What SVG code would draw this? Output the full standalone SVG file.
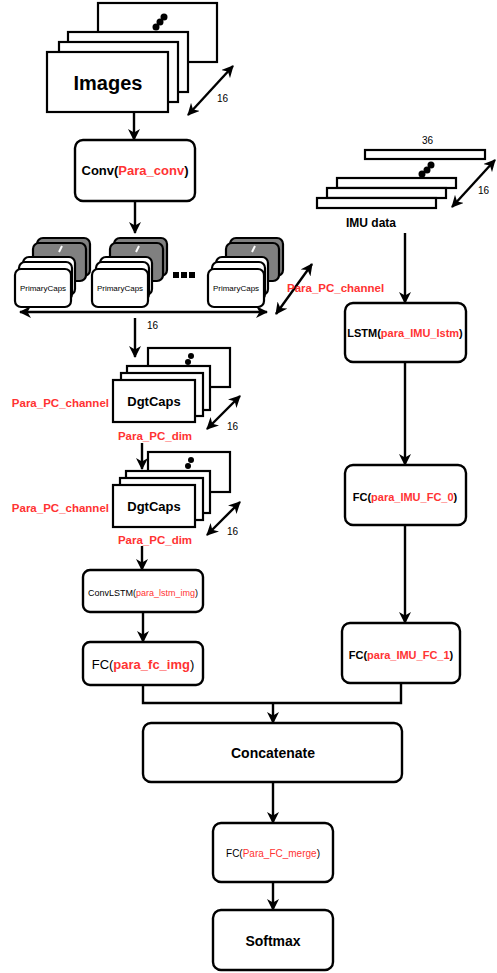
<svg xmlns="http://www.w3.org/2000/svg" width="497" height="973" viewBox="0 0 497 973">
<defs>
<marker id="ah" viewBox="0 0 12 12" refX="11" refY="6" markerWidth="12" markerHeight="12" markerUnits="userSpaceOnUse" orient="auto-start-reverse">
<path d="M0,0 L12,6 L0,12 L3.5,6 z" fill="#000"/>
</marker>
<style>
text{font-family:"Liberation Sans",Arial,sans-serif;fill:#000}
.b{font-weight:bold}
.r{fill:#ff3333}
.box{fill:#fff;stroke:#000;stroke-width:2.4}
.sheet{fill:#fff;stroke:#000;stroke-width:2.2}
.dark{fill:#808080;stroke:#000;stroke-width:2.2}
.card{fill:#fff;stroke:#000;stroke-width:2.2}
.ln{fill:none;stroke:#000;stroke-width:2.4}
.arr{fill:none;stroke:#000;stroke-width:2.4;marker-end:url(#ah)}
.darr{fill:none;stroke:#000;stroke-width:2.4;marker-end:url(#ah);marker-start:url(#ah)}
.dim{font-size:10px}
.lab{font-size:11.5px;font-weight:bold;fill:#ff3333}
</style>
</defs>
<rect width="497" height="973" fill="#fff"/>

<g id="images">
<rect class="sheet" x="98" y="3" width="119" height="59"/>
<circle cx="164" cy="17" r="3.5"/><circle cx="160" cy="22" r="3.5"/><circle cx="156" cy="27" r="3.5"/>
<rect class="sheet" x="68" y="32" width="120" height="60"/>
<rect class="sheet" x="59" y="42" width="119" height="60"/>
<rect class="sheet" x="47" y="52" width="121" height="60"/>
<text class="b" x="108" y="90" font-size="20" text-anchor="middle">Images</text>
<path class="darr" d="M188,115 L233,66"/>
<text class="dim" x="217" y="102">16</text>
</g>

<g id="conv">
<rect class="box" x="75" y="140" width="120" height="61" rx="8"/>
<text class="b" x="135" y="175" font-size="13" text-anchor="middle">Conv(<tspan class="r">Para_conv</tspan>)</text>
</g>

<g id="primarycaps">
<g id="pc1">
<rect class="dark" x="37" y="238" width="53" height="38" rx="6"/>
<rect class="dark" x="33" y="243" width="53" height="38" rx="6"/>
<path d="M62,246 l-3,6" stroke="#fff" stroke-width="2"/>
<rect class="card" x="23" y="257" width="52" height="38" rx="6"/>
<rect class="card" x="19" y="262" width="53" height="38" rx="6"/>
<rect class="card" x="15" y="269" width="56" height="38" rx="6"/>
<text x="43" y="291" font-size="8" text-anchor="middle">PrimaryCaps</text>
</g>
<g id="pc2">
<rect class="dark" x="114" y="238" width="53" height="38" rx="6"/>
<rect class="dark" x="110" y="243" width="53" height="38" rx="6"/>
<path d="M139,246 l-3,6" stroke="#fff" stroke-width="2"/>
<rect class="card" x="100" y="257" width="52" height="38" rx="6"/>
<rect class="card" x="96" y="262" width="53" height="38" rx="6"/>
<rect class="card" x="92" y="269" width="56" height="38" rx="6"/>
<text x="120" y="291" font-size="8" text-anchor="middle">PrimaryCaps</text>
</g>
<rect x="173" y="272" width="6" height="6"/><rect x="181" y="272" width="6" height="6"/><rect x="189" y="272" width="6" height="6"/>
<g id="pc3">
<rect class="dark" x="230" y="238" width="53" height="38" rx="6"/>
<rect class="dark" x="226" y="243" width="53" height="38" rx="6"/>
<path d="M255,246 l-3,6" stroke="#fff" stroke-width="2"/>
<rect class="card" x="216" y="257" width="52" height="38" rx="6"/>
<rect class="card" x="212" y="262" width="53" height="38" rx="6"/>
<rect class="card" x="208" y="269" width="56" height="38" rx="6"/>
<text x="236" y="291" font-size="8" text-anchor="middle">PrimaryCaps</text>
</g>
<path class="darr" d="M20,312 L267,312"/>
<text class="dim" x="147" y="329">16</text>
<path class="darr" d="M276,314 L312,264"/>
<text class="lab" x="287" y="292">Para_PC_channel</text>
</g>

<g id="imu">
<text class="dim" x="422" y="144">36</text>
<rect class="sheet" x="365" y="150" width="120" height="9"/>
<circle cx="431" cy="165" r="3.5"/><circle cx="427" cy="170" r="3.5"/><circle cx="422" cy="174" r="3.5"/>
<rect class="sheet" x="337" y="178" width="119" height="10"/>
<rect class="sheet" x="327" y="188" width="119" height="10"/>
<rect class="sheet" x="317" y="198" width="119" height="10"/>
<path class="darr" d="M452,207 L495,160"/>
<text class="dim" x="478" y="194">16</text>
<text class="b" x="371" y="227" font-size="12" text-anchor="middle">IMU data</text>
</g>

<g id="dgtcaps1">
<rect class="sheet" x="148" y="348" width="82" height="39"/>
<circle cx="191" cy="356" r="3"/><circle cx="188" cy="362" r="3"/>
<rect class="sheet" x="127" y="366" width="83" height="44"/>
<rect class="sheet" x="121" y="373" width="82" height="43"/>
<rect class="sheet" x="113" y="380" width="82" height="42"/>
<text class="b" x="154" y="406" font-size="13" text-anchor="middle">DgtCaps</text>
<text class="lab" x="109" y="407" text-anchor="end">Para_PC_channel</text>
<text class="lab" x="155" y="440" text-anchor="middle">Para_PC_dim</text>
<path class="darr" d="M207,429 L240,396"/>
<text class="dim" x="227" y="430">16</text>
</g>

<g id="dgtcaps2">
<rect class="sheet" x="148" y="452" width="82" height="40"/>
<circle cx="191" cy="460" r="3"/><circle cx="188" cy="466" r="3"/>
<rect class="sheet" x="126" y="471" width="84" height="42"/>
<rect class="sheet" x="120" y="478" width="83" height="42"/>
<rect class="sheet" x="113" y="485" width="82" height="42"/>
<text class="b" x="154" y="511" font-size="13" text-anchor="middle">DgtCaps</text>
<text class="lab" x="109" y="512" text-anchor="end">Para_PC_channel</text>
<text class="lab" x="155" y="544" text-anchor="middle">Para_PC_dim</text>
<path class="darr" d="M207,535 L240,502"/>
<text class="dim" x="227" y="535">16</text>
</g>

<g id="convlstm">
<rect class="box" x="83" y="570" width="120" height="42" rx="7"/>
<text x="143" y="596" font-size="9" text-anchor="middle">ConvLSTM(<tspan class="r">para_lstm_img</tspan>)</text>
</g>

<g id="fcimg">
<rect class="box" x="83" y="642" width="120" height="43" rx="7"/>
<text x="143" y="669" font-size="13" text-anchor="middle">FC(<tspan class="r b">para_fc_img</tspan>)</text>
</g>

<g id="lstm">
<rect class="box" x="345" y="303" width="121" height="59" rx="8"/>
<text class="b" x="405" y="337" font-size="11" text-anchor="middle">LSTM(<tspan class="r">para_IMU_lstm</tspan>)</text>
</g>

<g id="fc0">
<rect class="box" x="345" y="465" width="121" height="60" rx="8"/>
<text class="b" x="405" y="501" font-size="11" text-anchor="middle">FC(<tspan class="r">para_IMU_FC_0</tspan>)</text>
</g>

<g id="fc1">
<rect class="box" x="342" y="623" width="118" height="60" rx="8"/>
<text class="b" x="401" y="659" font-size="11" text-anchor="middle">FC(<tspan class="r">para_IMU_FC_1</tspan>)</text>
</g>

<g id="concat">
<rect class="box" x="143" y="723" width="259" height="59" rx="8"/>
<text class="b" x="273" y="758" font-size="14" text-anchor="middle">Concatenate</text>
</g>

<g id="fcmerge">
<rect class="box" x="213" y="823" width="120" height="59" rx="8"/>
<text x="273" y="857" font-size="10" text-anchor="middle">FC(<tspan class="r">Para_FC_merge</tspan>)</text>
</g>

<g id="softmax">
<rect class="box" x="213" y="910" width="120" height="60" rx="8"/>
<text class="b" x="273" y="946" font-size="14" text-anchor="middle">Softmax</text>
</g>

<g id="connectors">
<path class="arr" d="M134,112 L134,140"/>
<path class="arr" d="M135,201 L135,233"/>
<path class="arr" d="M135,318 L135,357"/>
<path class="arr" d="M142,443 L142,469"/>
<path class="arr" d="M142,546 L142,570"/>
<path class="arr" d="M143,612 L143,642"/>
<path class="ln" d="M143,685 L143,703 L401,703 L401,683"/>
<path class="arr" d="M273,703 L273,723"/>
<path class="arr" d="M273,782 L273,823"/>
<path class="arr" d="M273,882 L273,910"/>
<path class="arr" d="M405,233 L405,303"/>
<path class="arr" d="M405,362 L405,465"/>
<path class="arr" d="M405,525 L405,623"/>
</g>
</svg>
